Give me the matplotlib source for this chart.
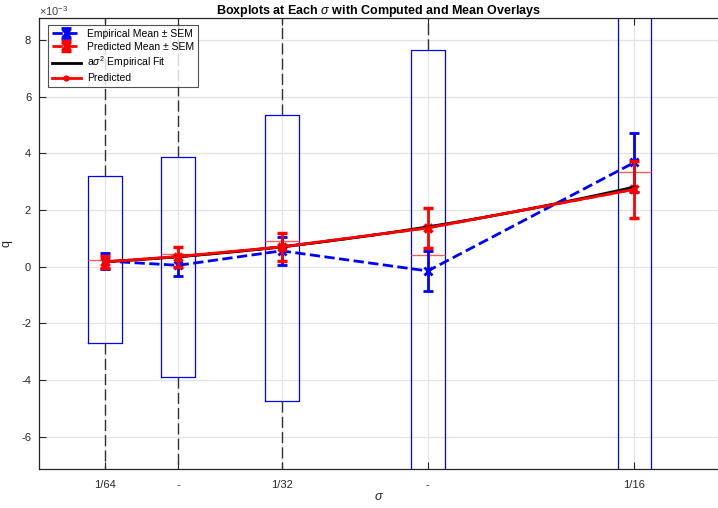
import numpy as np
import matplotlib
matplotlib.use('Agg')
import matplotlib.pyplot as plt
from matplotlib.ticker import FuncFormatter

plt.rcParams['font.family'] = ['Liberation Sans', 'DejaVu Sans']
plt.rcParams['mathtext.fontset'] = 'custom'
plt.rcParams['mathtext.it'] = 'Liberation Sans:italic'
plt.rcParams['mathtext.rm'] = 'Liberation Sans'
plt.rcParams['axes.unicode_minus'] = False

# 数据 (单位 1e-3)
scale = 1e-3
sigma = [1/64, np.sqrt(2)/64, 1/32, np.sqrt(2)/32, 1/16]
tick_labels = ['1/64', '-', '1/32', '-', '1/16']

box_q1 = [-2.70, -3.90, -4.75, -8.5, -10.0]
box_q3 = [3.20, 3.88, 5.35, 7.65, 12.0]
box_med = [0.24, 0.46, 0.92, 0.42, 3.33]
whisk_lo = [-12.0, -12.0, -12.0, -16.0, -20.0]
whisk_hi = [12.0, 12.0, 12.0, 16.0, 20.0]

emp_mean = [0.20, 0.05, 0.56, -0.15, 3.68]
emp_sem = [0.28, 0.37, 0.50, 0.69, 1.03]
pred_mean = [0.17, 0.35, 0.69, 1.37, 2.73]
pred_sem = [0.22, 0.35, 0.50, 0.70, 1.00]
predicted = [0.17, 0.36, 0.70, 1.37, 2.73]
a_fit = 0.72  # 拟合 q = a*sigma^2

fig = plt.figure(figsize=(7.18, 5.08), dpi=100)
ax = fig.add_axes([0.055, 0.077, 0.945, 0.888])

stats = []
for i in range(len(sigma)):
    stats.append(dict(med=box_med[i] * scale, q1=box_q1[i] * scale, q3=box_q3[i] * scale,
                      whislo=whisk_lo[i] * scale, whishi=whisk_hi[i] * scale, fliers=[]))
ax.bxp(stats, positions=sigma, widths=0.003, showcaps=False, showfliers=False,
       manage_ticks=False,
       boxprops=dict(color='blue', linewidth=0.9),
       whiskerprops=dict(color='#333333', linewidth=1.0, linestyle=(0, (8, 3))),
       medianprops=dict(color='#ff5c5c', linewidth=1.0))

h_emp = ax.errorbar(sigma, np.array(emp_mean) * scale, yerr=np.array(emp_sem) * scale,
                    color='blue', linestyle='--', linewidth=2, marker='x', markersize=6,
                    markeredgewidth=2, capsize=3.5, capthick=2, elinewidth=2,
                    label='Empirical Mean ± SEM', zorder=3)
h_pred = ax.errorbar(sigma, np.array(pred_mean) * scale, yerr=np.array(pred_sem) * scale,
                     color='red', linestyle='--', linewidth=2, marker='x', markersize=6,
                     markeredgewidth=2.5, capsize=3.5, capthick=2, elinewidth=2,
                     label='Predicted Mean ± SEM', zorder=4)

s_fine = np.linspace(sigma[0], sigma[-1], 200)
h_fit, = ax.plot(s_fine, a_fit * s_fine ** 2, color='black', linewidth=2,
                 label=r'a$\sigma^2$ Empirical Fit', zorder=5)
h_line, = ax.plot(sigma, np.array(predicted) * scale, color='red', linewidth=2, marker='o',
                  markersize=3.5, label='Predicted', zorder=6)

ax.set_xlim(0.00981, 0.0699)
ax.set_ylim(-7.13e-3, 8.78e-3)
ax.set_xticks(sigma)
ax.set_xticklabels(tick_labels)
ax.set_yticks(np.arange(-6, 9, 2) * scale)
ax.yaxis.set_major_formatter(FuncFormatter(lambda v, p: f'{v / scale:g}'))
ax.text(0.0, 1.0, r'$\times$10$^{-3}$', transform=ax.transAxes, fontsize=8,
        color='#404040', ha='left', va='bottom')

ax.grid(True, color='#e3e3e3', linewidth=0.9)
ax.set_axisbelow(True)
ax.tick_params(direction='in', length=5, width=0.8, labelsize=8, colors='#262626',
               top=True, right=False)
ax.tick_params(axis='x', pad=8)
ax.tick_params(axis='y', pad=6)
ax.spines['right'].set_visible(False)
for s in ['left', 'bottom', 'top']:
    ax.spines[s].set_color('#262626')
    ax.spines[s].set_linewidth(0.9)

ax.set_title(r'Boxplots at Each $\sigma$ with Computed and Mean Overlays',
             fontsize=9, fontweight='bold', pad=3)
ax.set_xlabel(r'$\sigma$', fontsize=9, color='#262626')
ax.set_ylabel('q', fontsize=9, color='#262626')
ax.xaxis.set_label_coords(0.5, -0.05)
ax.yaxis.set_label_coords(-0.04, 0.5)

leg = ax.legend([h_emp, h_pred, h_fit, h_line],
                ['Empirical Mean ± SEM', 'Predicted Mean ± SEM',
                 r'a$\sigma^2$ Empirical Fit', 'Predicted'],
                loc='upper left', fontsize=7.5, frameon=True, fancybox=False,
                edgecolor='#262626', borderpad=0.35, labelspacing=0.28,
                handlelength=2.8, handletextpad=0.6, borderaxespad=0,
                bbox_to_anchor=(0.0125, 0.984))
leg.get_frame().set_linewidth(0.8)

fig.savefig('out.png', dpi=100)
